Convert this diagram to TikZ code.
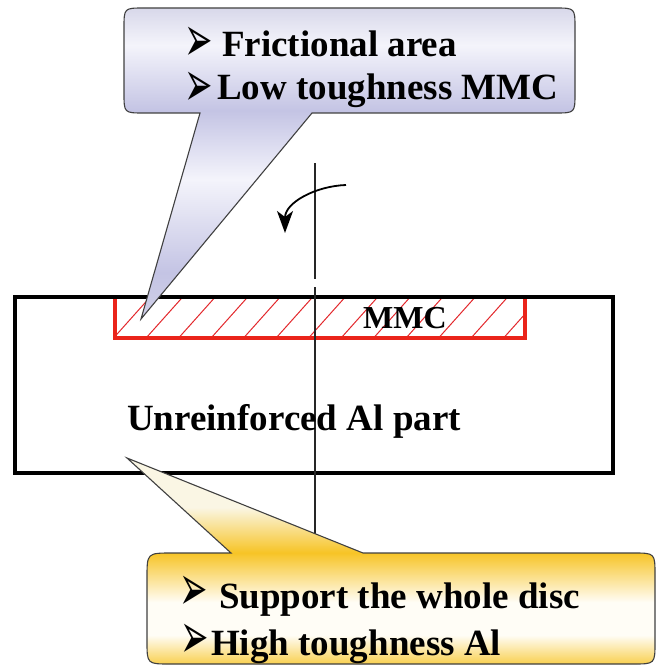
\documentclass[tikz,border=0pt]{standalone}
\usepackage{graphicx}
\usepackage{fontspec}
\setmainfont{Liberation Serif}
\newfontfamily\dvs{DejaVu Sans}
\usetikzlibrary{arrows.meta}
\definecolor{mmcred}{RGB}{234,36,26}
\definecolor{hatchred}{RGB}{226,40,44}
\definecolor{lavT}{RGB}{216,216,234}
\definecolor{lavW}{RGB}{244,244,251}
\definecolor{lavA}{RGB}{196,196,228}
\definecolor{lavC}{RGB}{208,208,232}
\definecolor{goldA}{RGB}{247,196,38}
\definecolor{goldB}{RGB}{249,208,80}
\definecolor{creamT}{RGB}{250,246,228}
\definecolor{creamW}{RGB}{255,253,246}
\pgfdeclareverticalshading{topcall}{100bp}{color(0bp)=(lavC); color(25bp)=(lavC); color(32.5bp)=(lavA); color(47.5bp)=(lavW); color(58.5bp)=(lavA); color(69bp)=(lavW); color(75bp)=(lavT); color(100bp)=(lavT)}
\pgfdeclareverticalshading{botcall}{100bp}{color(0bp)=(goldB); color(25bp)=(goldB); color(32bp)=(creamW); color(40bp)=(creamW); color(52bp)=(goldA); color(63bp)=(creamT); color(75bp)=(creamT); color(100bp)=(creamT)}
\newcommand{\bulletglyph}{\scalebox{1}[1.9]{\fontsize{34}{40}\dvs ➢}}
\tikzset{
  txt/.style={inner sep=0pt, font=\fontsize{37}{43}\selectfont\bfseries, anchor=base west},
  mmctxt/.style={inner sep=0pt, font=\fontsize{32}{38}\selectfont\bfseries, anchor=base west},
  bul/.style={inner sep=0pt, anchor=center},
  discbox/.style={draw=black, line width=3.5pt},
  mmcframe/.style={draw=mmcred, line width=4.5pt},
  hatchline/.style={draw=hatchred, line width=1pt},
  axisline/.style={draw=black!85, line width=1.4pt},
  callout/.style={draw=black!75, line width=1.1pt},
}
\begin{document}
\begin{tikzpicture}[x=1pt,y=-1pt]
\useasboundingbox (0,0) rectangle (657,666);
% MMC hatch
\begin{scope}
  \clip (115,297) rectangle (525,338);
  \foreach \i in {-1,...,13}
    \draw[hatchline] ({110+32.5*\i},342) -- ({110+32.5*\i+42},295);
\end{scope}
% MMC red frame
\draw[mmcframe] (115,297) -- (115,338) -- (525,338) -- (525,297);
% disc body
\draw[discbox] (15,297) rectangle (613,473);
% axis
\coordinate (axT) at (315,163);
\coordinate (axG1) at (315,279);
\coordinate (axG2) at (315,287);
\coordinate (axB) at (315,540);
\draw[axisline] (axT) -- (axG1);
\draw[axisline] (axG2) -- (axB);
% texts in the disc
\node[mmctxt] (mmc) at (363,328) {MMC};
\node[txt] (al) at (127,430) {Unreinforced Al part};
% rotation arrow
\coordinate (rotS) at (346,185);
\coordinate (rotE) at (285,233);
\draw[line width=1.8pt, -{Stealth[length=22pt,width=16pt,inset=6pt]}] (rotS) to[out=182,in=90] (rotE);
% top callout
\path[callout, shading=topcall] (141,319) -- (312,113) -- (555,113) .. controls (575,113) .. (575,93) -- (575,28) .. controls (575,8) .. (555,8) -- (144,8) .. controls (124,8) .. (124,28) -- (124,93) .. controls (124,113) .. (144,113) -- (200,113) -- cycle;
\node[bul] (b1) at (199,44) {\bulletglyph};
\node[txt] (t1) at (222,57) {Frictional area};
\node[bul] (b2) at (199,89) {\bulletglyph};
\node[txt] (t2) at (217,100) {Low toughness MMC};
% bottom callout
\path[callout, shading=botcall] (127,458) -- (363,553) -- (633,553) .. controls (655,553) .. (655,575) -- (655,642) .. controls (655,664) .. (633,664) -- (170,664) .. controls (147,664) .. (147,641) -- (147,578) .. controls (147,553) .. (172,553) -- (231,553) -- cycle;
\node[bul] (b3) at (194,593) {\bulletglyph};
\node[txt] (t3) at (219,608) {Support the whole disc};
\node[bul] (b4) at (195,641) {\bulletglyph};
\node[txt] (t4) at (211,655) {High toughness Al};
\end{tikzpicture}
\end{document}
